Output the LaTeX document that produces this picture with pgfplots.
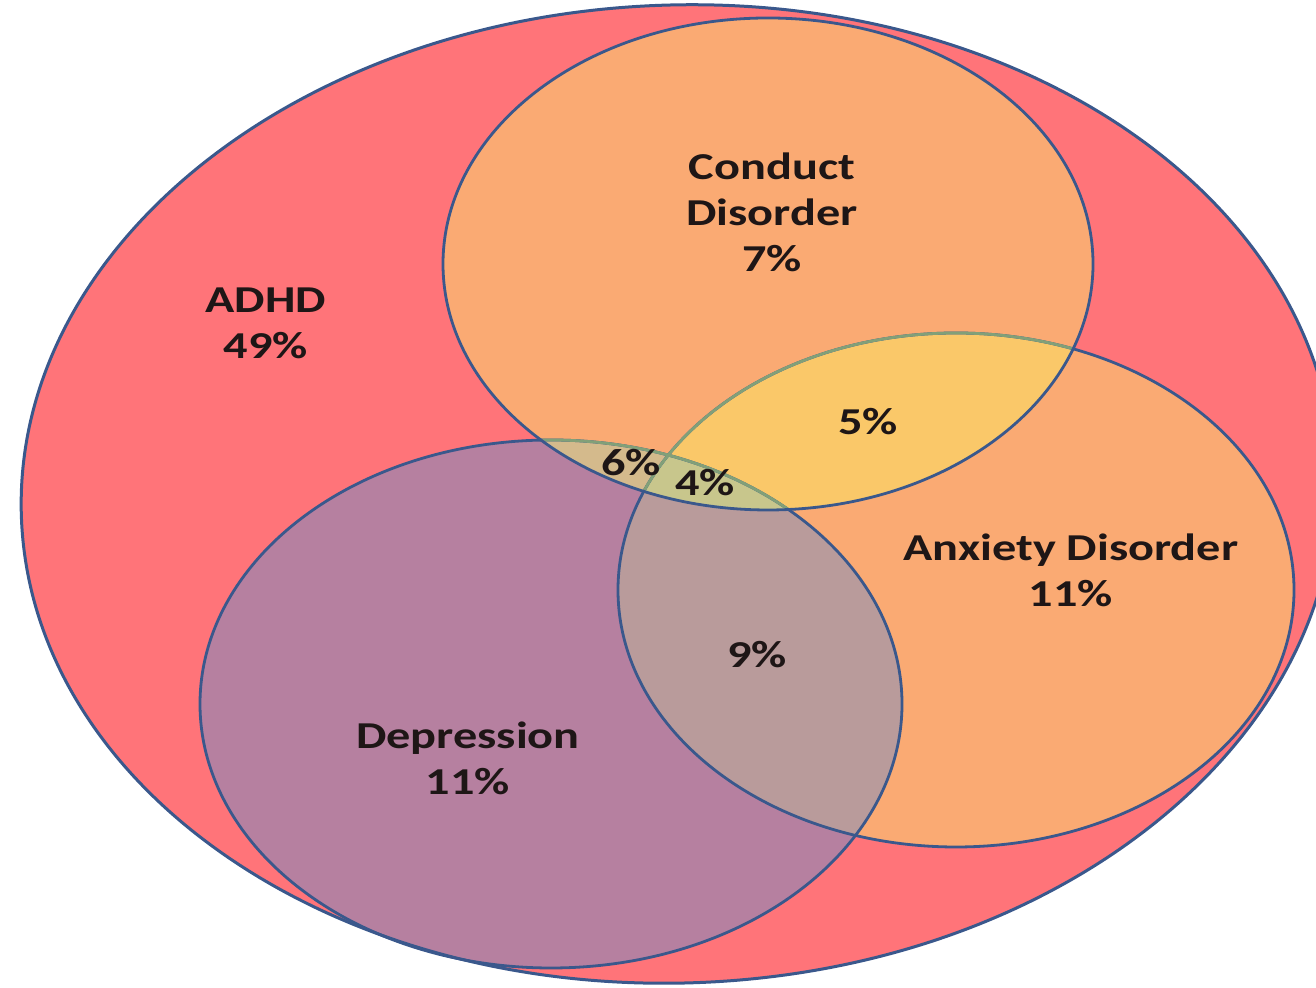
\documentclass[border=0pt]{standalone}
\usepackage{pgfplots}
\pgfplotsset{compat=1.18}
\usepackage{fontspec}
\setmainfont{Carlito}
\newfontfamily\lab{Carlito}[FakeStretch=1.27]
\definecolor{adhd}{RGB}{255,116,121}
\definecolor{orng}{RGB}{250,170,115}
\definecolor{purp}{RGB}{182,128,160}
\definecolor{yell}{RGB}{250,200,105}
\definecolor{gryp}{RGB}{185,155,155}
\definecolor{tanc}{RGB}{212,186,140}
\definecolor{grn}{RGB}{200,198,140}
\definecolor{edge}{RGB}{58,88,140}
\definecolor{edgeg}{RGB}{130,160,120}
\definecolor{txt}{RGB}{30,22,22}
\newcommand{\EBig}{(axis cs:678,494) ellipse [x radius=657, y radius=489]}
\newcommand{\ECond}{(axis cs:768,724) ellipse [x radius=325, y radius=246]}
\newcommand{\EAnx}{(axis cs:956,398) ellipse [x radius=338, y radius=257]}
\newcommand{\EDep}{(axis cs:551,284) ellipse [x radius=351, y radius=264]}
\begin{document}
\begin{tikzpicture}
\begin{axis}[width=658pt, height=494pt, scale only axis,
  xmin=0, xmax=1316, ymin=0, ymax=988, axis lines=none, clip=true]
\path (axis cs:0,0) rectangle (axis cs:1316,988);
\fill[adhd, rotate around={2:(axis cs:678,494)}] \EBig;
\fill[orng] \ECond;
\fill[orng] \EAnx;
\fill[purp] \EDep;
\begin{scope}\clip \ECond; \fill[yell] \EAnx; \end{scope}
\begin{scope}\clip \EDep; \fill[gryp] \EAnx; \end{scope}
\begin{scope}\clip \ECond; \fill[tanc] \EDep; \end{scope}
\begin{scope}\clip \ECond; \clip \EDep; \fill[grn] \EAnx; \end{scope}
\draw[edge, line width=1.5pt, rotate around={2:(axis cs:678,494)}] \EBig;
\draw[edge, line width=1.4pt] \EAnx;
\draw[edge, line width=1.4pt] \EDep;
\begin{scope}\clip \ECond;
 \draw[edgeg, line width=1.4pt] \EAnx;
 \draw[edgeg, line width=1.4pt] \EDep;
\end{scope}
\draw[edge, line width=1.4pt] \ECond;
\begin{scope}[every node/.style={text=txt, align=center, font=\lab\bfseries\fontsize{19}{23}\selectfont}]
\node at (axis cs:772,776) {Conduct\\Disorder\\7\%};
\node at (axis cs:266,665) {ADHD\\49\%};
\node at (axis cs:868,566) {5\%};
\node at (axis cs:631,525) {6\%};
\node at (axis cs:705,505) {4\%};
\node at (axis cs:1071,418) {Anxiety Disorder\\11\%};
\node at (axis cs:757,333) {9\%};
\node at (axis cs:468,230) {Depression\\11\%};
\end{scope}
\end{axis}
\end{tikzpicture}
\end{document}
